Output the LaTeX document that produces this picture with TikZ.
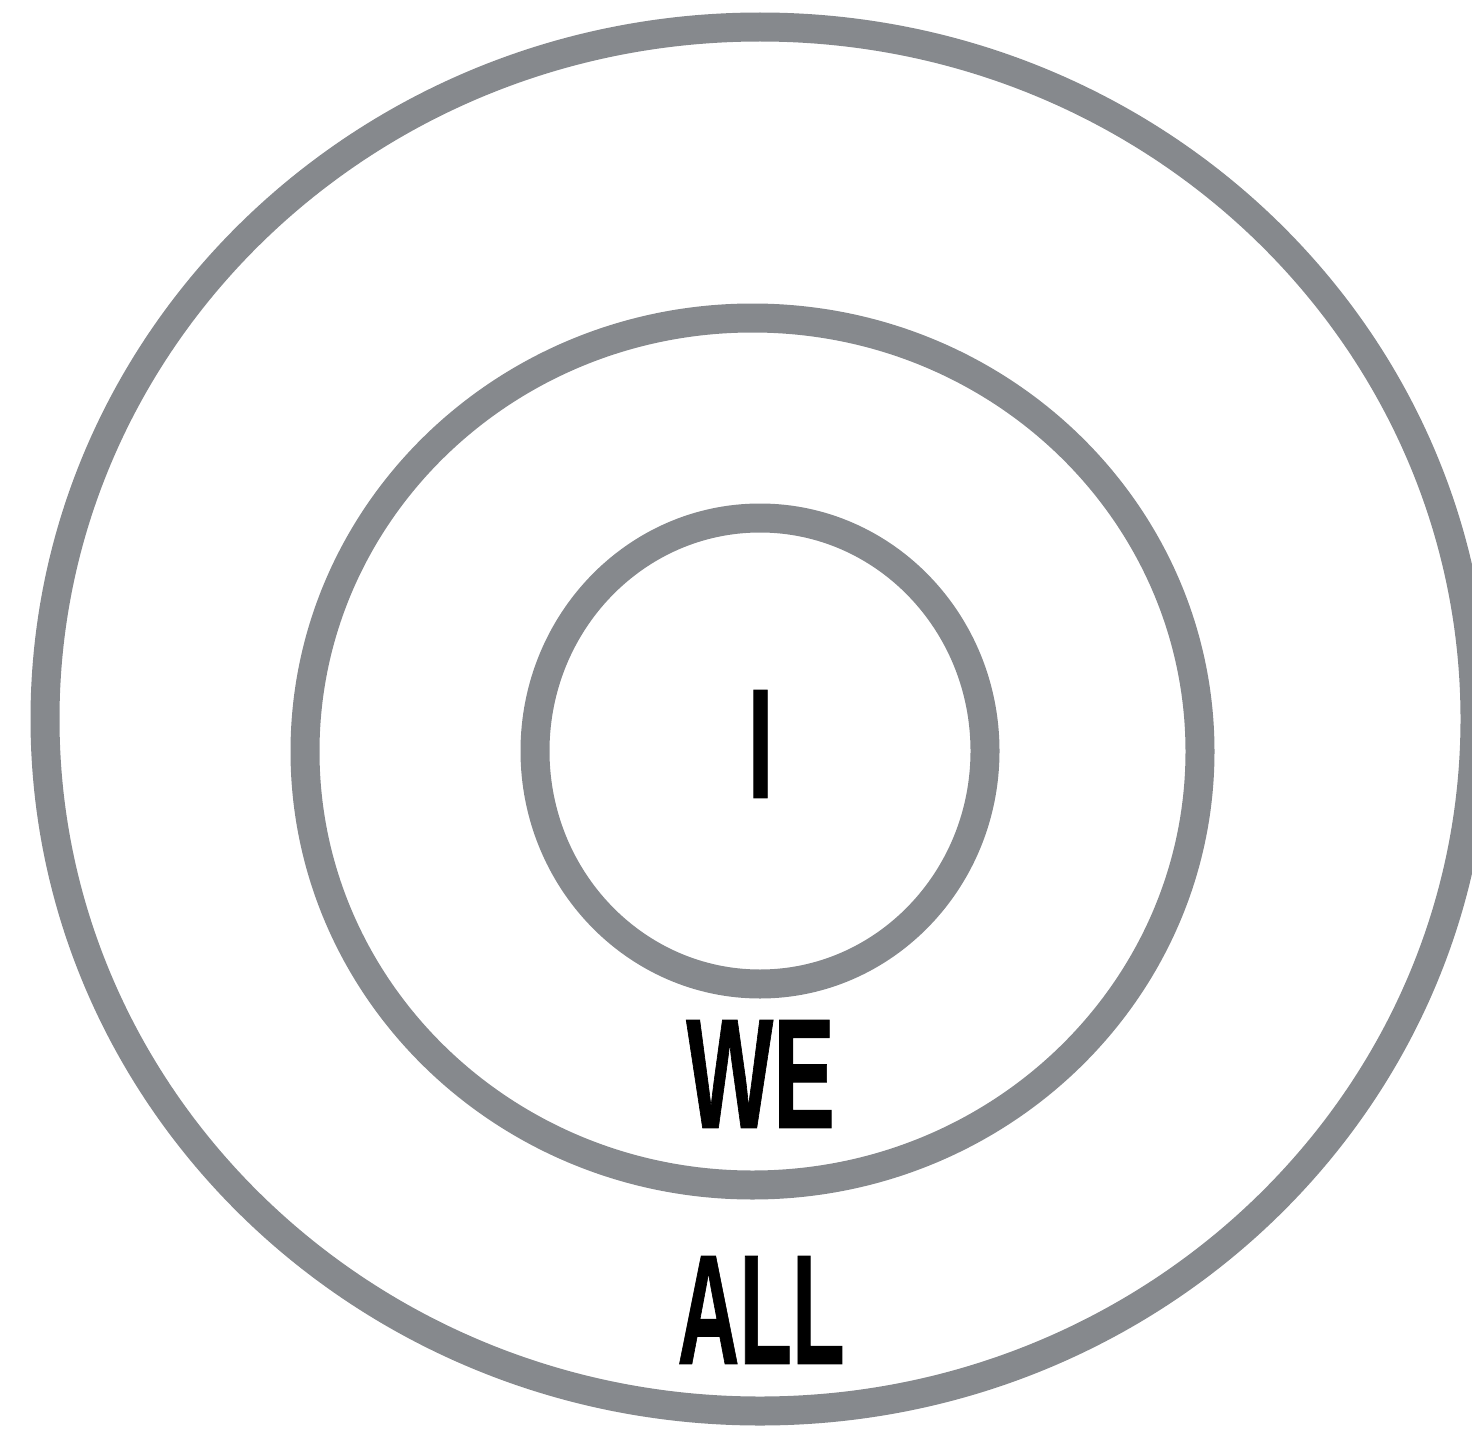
\documentclass[tikz,border=0pt]{standalone}
\usepackage{fontspec}
\setmainfont{Liberation Sans}[BoldFeatures={FakeBold=0.7}]
\usetikzlibrary{shapes.geometric}
\definecolor{ringgray}{HTML}{86898D}
\tikzset{
  ring/.style={draw=ringgray, line width=0.29cm},
  label/.style={inner sep=0pt, outer sep=0pt, anchor=center,
    font=\fontsize{44.5}{50}\selectfont\bfseries}
}
\newcommand{\narrow}[2][0.6]{\scalebox{#1}[1]{#2}}
\begin{document}
\begin{tikzpicture}
\useasboundingbox (0,0) rectangle (14.72,14.39);
\clip (0,0) rectangle (14.72,14.39);
\draw[ring] (7.60,7.20) ellipse [x radius=7.15cm, y radius=6.92cm];
\draw[ring] (7.525,6.875) ellipse [x radius=4.475cm, y radius=4.335cm];
\draw[ring] (7.60,6.88) ellipse [x radius=2.25cm, y radius=2.33cm];
\node[label] (i) at (7.605,6.95) {\narrow{I}};
\node[label] (we) at (7.605,3.65) {\narrow[0.59]{WE}};
\node[label] (all) at (7.61,1.29) {\narrow[0.55]{ALL}};
\end{tikzpicture}
\end{document}
